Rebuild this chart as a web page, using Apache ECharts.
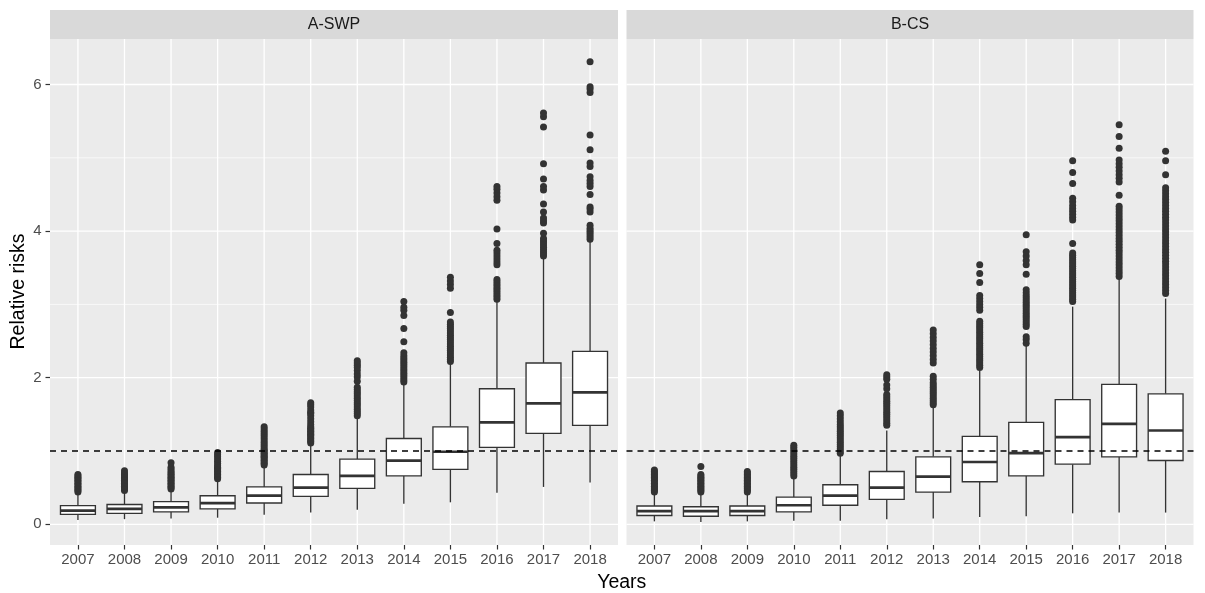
<!DOCTYPE html>
<html><head><meta charset="utf-8">
<script src="https://cdn.jsdelivr.net/npm/echarts@6/dist/echarts.min.js"></script>
<style>html,body{margin:0;padding:0;background:#fff}#c{width:1205px;height:593px}</style>
</head><body><div id="c"></div>
<script>
const years = ['2007','2008','2009','2010','2011','2012','2013','2014','2015','2016','2017','2018'];
const panels = ['A-SWP','B-CS'];
const yTicks = [0, 2, 4, 6];
const yMinor = [1, 3, 5];
const refLine = 1;

// [lower whisker, Q1, median, Q3, upper whisker]
const boxA = [
  [0.06,0.136,0.186,0.254,0.42],
  [0.07,0.15,0.21,0.27,0.44],
  [0.08,0.17,0.23,0.31,0.46],
  [0.09,0.21,0.29,0.39,0.60],
  [0.13,0.29,0.39,0.51,0.79],
  [0.16,0.38,0.50,0.68,1.09],
  [0.20,0.49,0.66,0.89,1.46],
  [0.28,0.66,0.87,1.17,1.92],
  [0.30,0.75,0.99,1.33,2.19],
  [0.43,1.05,1.39,1.85,3.04],
  [0.51,1.24,1.65,2.20,3.64],
  [0.57,1.35,1.80,2.36,3.87]
];
const outA = [
  [0.44,0.46,0.48,0.50,0.52,0.54,0.56,0.58,0.60,0.62,0.64,0.66,0.68],
  [0.46,0.48,0.50,0.52,0.54,0.56,0.58,0.60,0.62,0.64,0.66,0.68,0.70,0.73],
  [0.48,0.50,0.52,0.54,0.56,0.58,0.60,0.62,0.64,0.66,0.68,0.70,0.72,0.75,0.78,0.84],
  [0.62,0.64,0.66,0.68,0.70,0.72,0.74,0.76,0.78,0.80,0.83,0.86,0.89,0.92,0.95,0.98],
  [0.81,0.83,0.85,0.87,0.89,0.91,0.93,0.95,0.97,0.99,1.01,1.03,1.06,1.09,1.12,1.15,1.18,1.21,1.24,1.27,1.30,1.33],
  [1.11,1.13,1.15,1.17,1.19,1.21,1.23,1.25,1.27,1.29,1.31,1.33,1.36,1.40,1.44,1.48,1.51,1.53,1.56,1.60,1.63,1.66],
  [1.48,1.51,1.54,1.57,1.60,1.63,1.66,1.69,1.72,1.75,1.78,1.81,1.84,1.87,1.95,2.01,2.05,2.10,2.14,2.17,2.20,2.23],
  [1.94,1.97,2.00,2.03,2.06,2.09,2.12,2.15,2.18,2.21,2.24,2.27,2.30,2.34,2.49,2.67,2.85,2.92,2.96,3.04],
  [2.22,2.25,2.28,2.31,2.34,2.37,2.40,2.43,2.46,2.49,2.52,2.55,2.58,2.61,2.64,2.67,2.70,2.73,2.76,2.89,3.22,3.27,3.32,3.37],
  [3.07,3.10,3.13,3.16,3.19,3.22,3.25,3.28,3.31,3.34,3.54,3.58,3.62,3.66,3.70,3.74,3.83,4.03,4.42,4.47,4.52,4.57,4.61],
  [3.66,3.69,3.72,3.75,3.78,3.81,3.84,3.87,3.90,3.97,4.11,4.14,4.18,4.26,4.37,4.56,4.61,4.71,4.92,5.42,5.56,5.61],
  [3.89,3.92,3.95,3.98,4.01,4.04,4.08,4.26,4.30,4.33,4.50,4.61,4.65,4.69,4.74,4.88,4.93,5.11,5.31,5.89,5.94,5.97,6.31]
];
const boxB = [
  [0.04,0.12,0.18,0.25,0.42],
  [0.03,0.11,0.18,0.24,0.42],
  [0.04,0.12,0.18,0.25,0.42],
  [0.05,0.17,0.26,0.37,0.63],
  [0.05,0.26,0.39,0.54,0.95],
  [0.07,0.34,0.50,0.72,1.28],
  [0.08,0.44,0.65,0.92,1.60],
  [0.10,0.58,0.85,1.20,2.10],
  [0.11,0.66,0.97,1.39,2.44],
  [0.15,0.82,1.19,1.70,2.97],
  [0.16,0.92,1.37,1.91,3.36],
  [0.16,0.87,1.28,1.78,3.08]
];
const outB = [
  [0.44,0.46,0.48,0.50,0.52,0.54,0.56,0.58,0.60,0.62,0.64,0.66,0.68,0.70,0.72,0.74],
  [0.44,0.46,0.48,0.50,0.52,0.54,0.56,0.58,0.60,0.62,0.64,0.66,0.68,0.79],
  [0.44,0.46,0.48,0.50,0.52,0.54,0.56,0.58,0.60,0.62,0.64,0.66,0.68,0.70,0.72],
  [0.66,0.69,0.72,0.75,0.78,0.81,0.84,0.87,0.90,0.93,0.96,0.99,1.02,1.05,1.08],
  [0.97,1.00,1.03,1.06,1.09,1.12,1.15,1.18,1.21,1.24,1.27,1.30,1.33,1.36,1.40,1.44,1.48,1.52],
  [1.35,1.38,1.41,1.44,1.47,1.50,1.53,1.56,1.59,1.62,1.65,1.68,1.71,1.74,1.77,1.85,1.90,1.98,2.01,2.04],
  [1.63,1.66,1.69,1.72,1.75,1.78,1.81,1.84,1.87,1.90,1.93,1.98,2.02,2.20,2.25,2.30,2.35,2.40,2.45,2.50,2.55,2.60,2.65],
  [2.14,2.17,2.20,2.23,2.26,2.29,2.32,2.35,2.38,2.41,2.44,2.47,2.50,2.53,2.56,2.59,2.62,2.65,2.68,2.71,2.74,2.77,2.92,2.96,3.00,3.04,3.08,3.12,3.30,3.42,3.54],
  [2.47,2.52,2.56,2.70,2.73,2.76,2.79,2.82,2.85,2.88,2.91,2.94,2.97,3.00,3.03,3.06,3.09,3.12,3.16,3.20,3.41,3.54,3.60,3.66,3.72,3.95],
  [3.04,3.07,3.10,3.13,3.16,3.19,3.22,3.25,3.28,3.31,3.34,3.37,3.40,3.43,3.46,3.49,3.52,3.55,3.58,3.61,3.64,3.67,3.70,3.83,4.15,4.19,4.23,4.27,4.31,4.35,4.40,4.45,4.65,4.80,4.96],
  [3.38,3.42,3.46,3.50,3.54,3.58,3.62,3.66,3.70,3.74,3.78,3.82,3.86,3.90,3.94,3.98,4.02,4.06,4.10,4.14,4.18,4.22,4.26,4.30,4.34,4.49,4.67,4.72,4.77,4.82,4.87,4.92,4.97,5.13,5.29,5.45],
  [3.15,3.19,3.23,3.27,3.31,3.35,3.39,3.43,3.47,3.51,3.55,3.59,3.63,3.67,3.71,3.75,3.79,3.83,3.87,3.91,3.95,3.99,4.03,4.07,4.11,4.15,4.19,4.23,4.27,4.31,4.35,4.39,4.43,4.47,4.51,4.55,4.59,4.77,4.96,5.09]
];

const FONT = 'Liberation Sans, Arial, sans-serif';
const INK = '#333333';
const grids = [
  {left: 50, top: 39, width: 568, height: 506},
  {left: 626.5, top: 39, width: 567, height: 506}
];
const boxes = [boxA, boxB];
const outs = [outA, outB];
const yIdx = years.map((_, i) => i);

function gridItem(params, api) {
  const cs = params.coordSys;
  const kind = api.value(2);
  const p = api.coord([api.value(0), api.value(1)]);
  if (kind === 2) {
    return {type: 'line', shape: {x1: p[0], y1: cs.y, x2: p[0], y2: cs.y + cs.height},
      style: {stroke: '#ffffff', lineWidth: 1.3}};
  }
  return {type: 'line', shape: {x1: cs.x, y1: p[1], x2: cs.x + cs.width, y2: p[1]},
    style: {stroke: '#ffffff', lineWidth: kind === 0 ? 1.3 : 0.65}};
}
function boxItem(params, api) {
  const i = api.value(0);
  const lo = api.coord([i, api.value(1)]);
  const q1 = api.coord([i, api.value(2)]);
  const md = api.coord([i, api.value(3)]);
  const q3 = api.coord([i, api.value(4)]);
  const hi = api.coord([i, api.value(5)]);
  const w = api.size([1, 0])[0] * 0.75;
  const x = lo[0];
  const st = {stroke: INK, lineWidth: 1.35};
  return {type: 'group', children: [
    {type: 'line', shape: {x1: x, y1: lo[1], x2: x, y2: q1[1]}, style: st},
    {type: 'line', shape: {x1: x, y1: q3[1], x2: x, y2: hi[1]}, style: st},
    {type: 'rect', shape: {x: x - w / 2, y: q3[1], width: w, height: q1[1] - q3[1]},
      style: {fill: '#ffffff', stroke: INK, lineWidth: 1.35}},
    {type: 'line', shape: {x1: x - w / 2, y1: md[1], x2: x + w / 2, y2: md[1]},
      style: {stroke: INK, lineWidth: 2.7}}
  ]};
}
function refItem(params, api) {
  const cs = params.coordSys;
  const p = api.coord([api.value(0), api.value(1)]);
  return {type: 'line', shape: {x1: cs.x, y1: p[1], x2: cs.x + cs.width, y2: p[1]},
    style: {stroke: '#000000', lineWidth: 1.4, lineDash: [6, 5]}};
}

const xAxes = [], yAxes = [], series = [], graphics = [];
grids.forEach((g, k) => {
  xAxes.push({
    type: 'value', gridIndex: k, min: -0.6, max: 11.6,
    axisLine: {show: false, onZero: false}, splitLine: {show: false},
    axisTick: {show: true, length: 4.5, customValues: yIdx, lineStyle: {color: INK, width: 1.2}},
    axisLabel: {customValues: yIdx, formatter: v => years[Math.round(v)] || '',
      color: '#4D4D4D', fontSize: 15, fontFamily: FONT, margin: 7.5}
  });
  yAxes.push({
    type: 'value', gridIndex: k, min: -0.2824, max: 6.621,
    axisLine: {show: false, onZero: false}, splitLine: {show: false},
    axisTick: {show: k === 0, length: 4.5, customValues: yTicks, lineStyle: {color: INK, width: 1.2}},
    axisLabel: {show: k === 0, customValues: yTicks, formatter: v => String(Math.round(v)),
      color: '#4D4D4D', fontSize: 15, fontFamily: FONT, margin: 8.5}
  });
  const gridData = []
    .concat(yMinor.map(v => [0, v, 1]))
    .concat(yTicks.map(v => [0, v, 0]))
    .concat(yIdx.map(i => [i, 0, 2]));
  series.push({type: 'custom', xAxisIndex: k, yAxisIndex: k, z: 1, silent: true, clip: false,
    renderItem: gridItem, encode: {x: 0, y: 1}, data: gridData});
  series.push({type: 'custom', xAxisIndex: k, yAxisIndex: k, z: 2, silent: true,
    renderItem: boxItem, encode: {x: 0, y: [1, 2, 3, 4, 5]},
    data: boxes[k].map((b, i) => [i].concat(b))});
  const pts = [];
  outs[k].forEach((arr, i) => arr.forEach(v => pts.push([i, v])));
  series.push({type: 'scatter', xAxisIndex: k, yAxisIndex: k, z: 3, silent: true,
    symbol: 'circle', symbolSize: 7, itemStyle: {color: INK, opacity: 1}, data: pts});
  series.push({type: 'custom', xAxisIndex: k, yAxisIndex: k, z: 4, silent: true,
    renderItem: refItem, encode: {x: 0, y: 1}, data: [[0, refLine]]});
  graphics.push({type: 'rect', shape: {x: g.left, y: 10, width: g.width, height: 29},
    style: {fill: '#D9D9D9'}, silent: true});
  graphics.push({type: 'text', x: g.left + g.width / 2, y: 25,
    style: {text: panels[k], fill: '#1A1A1A', fontSize: 16, fontFamily: FONT,
      textAlign: 'center', textVerticalAlign: 'middle'}});
});
graphics.push({type: 'text', x: 621.75, y: 582.5,
  style: {text: 'Years', fill: '#000000', fontSize: 19.5, fontFamily: FONT,
    textAlign: 'center', textVerticalAlign: 'middle'}});
graphics.push({type: 'text', x: 19, y: 291.5, rotation: Math.PI / 2,
  style: {text: 'Relative risks', fill: '#000000', fontSize: 19.5, fontFamily: FONT,
    textAlign: 'center', textVerticalAlign: 'middle'}});

const chart = echarts.init(document.getElementById('c'), null, {renderer: 'canvas'});
chart.setOption({
  animation: false,
  backgroundColor: '#ffffff',
  grid: grids.map(g => Object.assign({show: true, backgroundColor: '#EBEBEB', borderWidth: 0, containLabel: false}, g)),
  xAxis: xAxes,
  yAxis: yAxes,
  series: series,
  graphic: graphics
});
</script>
</body></html>
